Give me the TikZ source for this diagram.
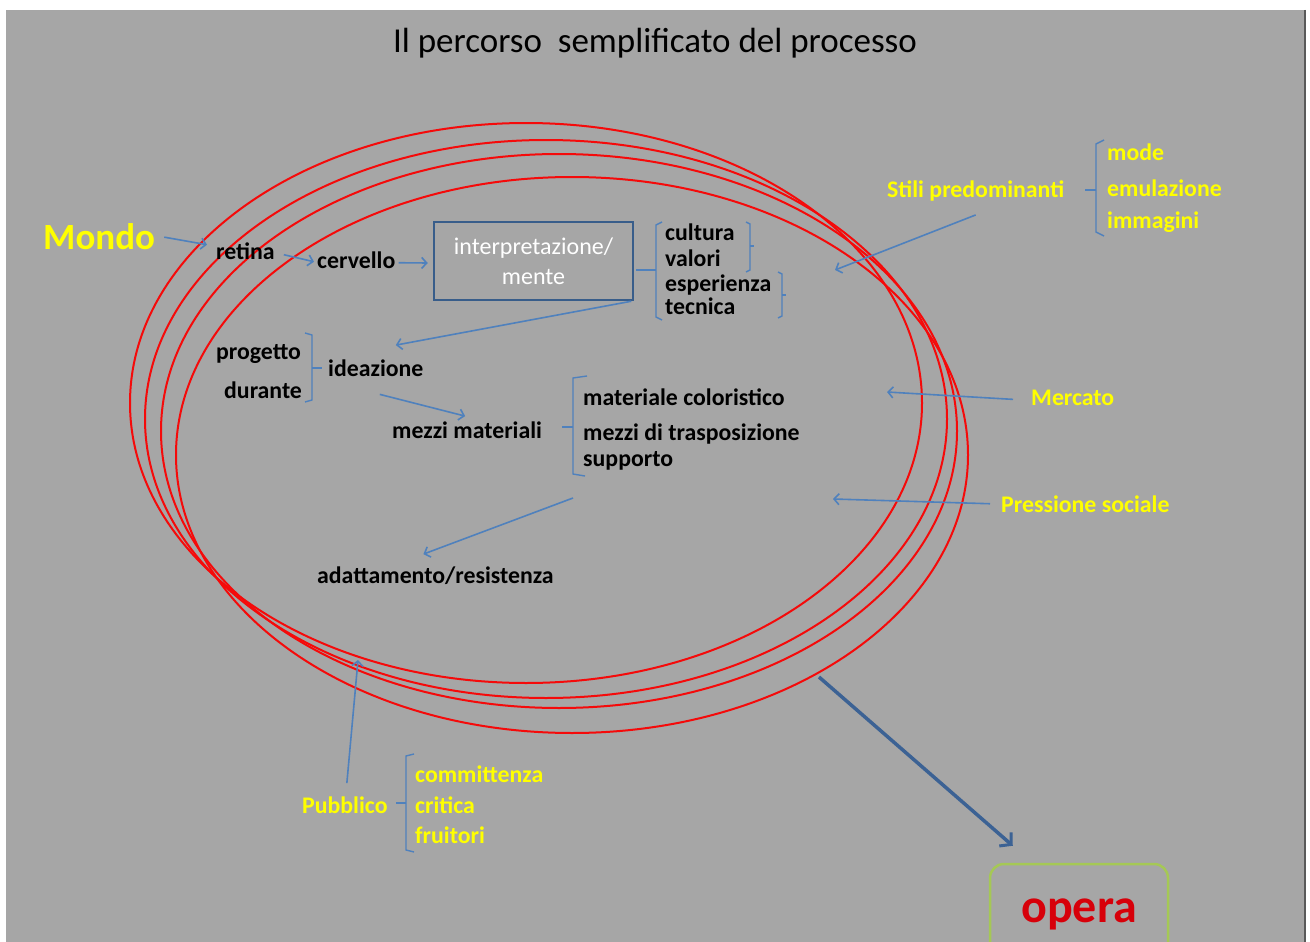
\documentclass[tikz,border=0pt]{standalone}
\usepackage{fontspec}
\setmainfont{Carlito}
\usetikzlibrary{arrows.meta,calc}
\definecolor{bggray}{RGB}{166,166,166}
\definecolor{arrblue}{RGB}{79,129,189}
\definecolor{boxblue}{RGB}{56,93,138}
\definecolor{bigblue}{RGB}{60,98,148}
\definecolor{yel}{RGB}{255,255,0}
\definecolor{ellred}{RGB}{245,10,10}
\definecolor{opred}{RGB}{215,0,10}
\definecolor{opgreen}{RGB}{165,200,85}
\begin{document}
\begin{tikzpicture}[x=1pt,y=-1pt,
  lbl/.style={anchor=base west, inner sep=0pt, font=\fontsize{23.8}{28}\selectfont\bfseries, text=black},
  ylbl/.style={lbl, text=yel},
  arr/.style={draw=arrblue, line width=1.6pt, -{Straight Barb[length=5pt,width=11pt,line width=1.6pt]}},
  bigarr/.style={draw=bigblue, line width=3.5pt, -{Straight Barb[length=8pt,width=18pt,line width=3pt]}},
  brk/.style={draw=arrblue, line width=1.4pt},
  ell/.style={draw=ellred, line width=2pt},
]
\useasboundingbox (0,0) rectangle (1310,942);
\fill[white] (0,0) rectangle (1310,942);
\fill[bggray] (6,10) rectangle (1305,942);
\draw[line width=2pt, draw=black!65] (1305,10) -- (1305,942);
\clip (0,0) rectangle (1310,942);

% title
\node[anchor=base, inner sep=0pt, font=\fontsize{35}{42}\selectfont] (title) at (655,53) {Il percorso\ \ semplificato del processo};

% ellipses
\draw[ell] (526,403) ellipse [x radius=396pt, y radius=280pt];
\draw[ell] (546,419) ellipse [x radius=401pt, y radius=279pt];
\draw[ell] (559,431) ellipse [x radius=398pt, y radius=277pt];
\draw[ell] (572,455) ellipse [x radius=396pt, y radius=278pt];

% texts
\node[ylbl, font=\fontsize{37}{42}\selectfont\bfseries] (mondo) at (43,249) {Mondo};
\node[lbl] (retina) at (216,259) {retina};
\node[lbl] (cervello) at (317,268) {cervello};
\node[draw=boxblue, line width=2.5pt, minimum width=199pt, minimum height=78pt, inner sep=0pt, align=center, text=white, font=\fontsize{24}{30}\selectfont] (box) at (533.5,261) {interpretazione/\\mente};
\node[lbl] (cultura) at (665,240) {cultura};
\node[lbl] (valori) at (665,266) {valori};
\node[lbl] (esperienza) at (665,291) {esperienza};
\node[lbl] (tecnica) at (665,314) {tecnica};
\node[lbl] (progetto) at (216,359) {progetto};
\node[lbl] (durante) at (224,398) {durante};
\node[lbl] (ideazione) at (328,376) {ideazione};
\node[lbl] (mezzi) at (392,438) {mezzi materiali};
\node[lbl] (materiale) at (583,405) {materiale coloristico};
\node[lbl] (trasp) at (583,440) {mezzi di trasposizione};
\node[lbl] (supporto) at (583,466) {supporto};
\node[lbl] (adatt) at (317,583) {adattamento/resistenza};
\node[ylbl] (stili) at (887,197) {Stili predominanti};
\node[ylbl] (mode) at (1107,160) {mode};
\node[ylbl] (emul) at (1107,196) {emulazione};
\node[ylbl] (immag) at (1107,228) {immagini};
\node[ylbl] (mercato) at (1031,405) {Mercato};
\node[ylbl] (pressione) at (1001,512) {Pressione sociale};
\node[ylbl] (pubblico) at (302,813) {Pubblico};
\node[ylbl] (committ) at (415,782) {committenza};
\node[ylbl] (critica) at (415,813) {critica};
\node[ylbl] (fruitori) at (415,843) {fruitori};
\node[draw=opgreen, line width=2.5pt, rounded corners=14pt, minimum width=178pt, minimum height=100pt, text=opred, font=\fontsize{48}{56}\selectfont\bfseries] (opera) at (1079,914) {opera};

% brackets
\draw[brk] (662,222) -- (656,225) -- (656,317) -- (662,320);
\draw[brk] ($(box.east)+(2,9)$) -- (656,270);
\draw[brk] (746,222) -- (750,224) -- (750,270) -- (746,272);
\draw[brk] (750,246) -- (754,246);
\draw[brk] (778,272) -- (782,274) -- (782,316) -- (778,318);
\draw[brk] (782,295) -- (786,295);
\draw[brk] (305,333) -- (312,335) -- (312,400) -- (305,402);
\draw[brk] (312,368) -- (322,368);
\draw[brk] (587,376) -- (573,378) -- (573,474) -- (585,476);
\draw[brk] (573,427) -- (562,427);
\draw[brk] (1104,140) -- (1096,144) -- (1096,232) -- (1104,236);
\draw[brk] (1096,190) -- (1085,190);
\draw[brk] (414,754) -- (406,756) -- (406,850) -- (414,852);
\draw[brk] (406,803) -- (396,803);

% connectors
\coordinate (stiliEnd) at (835,270);
\coordinate (mercatoEnd) at (887,392);
\coordinate (pressEnd) at (833,499);
\coordinate (pubEnd) at (358,660);
\coordinate (supStart) at (573,498);
\coordinate (operaStart) at (819,677);
\draw[arr] ($(mondo.east)+(9,1)$) -- ($(retina.west)+(-9,-6)$);
\draw[arr] ($(retina.east)+(9,4)$) -- ($(cervello.west)+(-3,2)$);
\draw[arr] ($(cervello.east)+(3,3)$) -- ($(box.west)+(-5,2)$);
\draw[arr] ($(box.south east)+(-3,0)$) -- ($(ideazione.north)+(20,-14)$);
\draw[arr] ($(ideazione.south)+(4,18)$) -- ($(mezzi.north)+(-2,-5)$);
\draw[arr] (supStart) -- ($(adatt.north)+(-12,-12)$);
\draw[arr] ($(stili.south)+(0,14)$) -- (stiliEnd);
\draw[arr] ($(mercato.west)+(-18,2)$) -- (mercatoEnd);
\draw[arr] ($(pressione.west)+(-11,0)$) -- (pressEnd);
\draw[arr] ($(pubblico.north)+(2,-13)$) -- (pubEnd);
\draw[bigarr] (operaStart) -- ($(opera.north west)+(24,-17)$);
\end{tikzpicture}
\end{document}
